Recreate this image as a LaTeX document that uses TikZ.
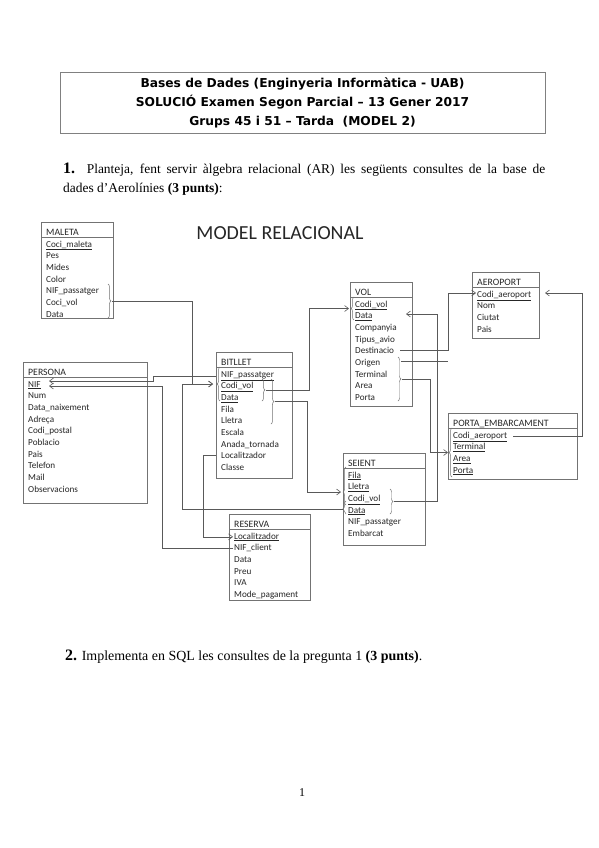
\documentclass[tikz,border=0pt]{standalone}
\usepackage{fontspec}
\setmainfont{Liberation Serif}
\newfontfamily\diagfont{Carlito}
\newfontfamily\capfont{DejaVu Sans}
\usetikzlibrary{arrows.meta,decorations.pathreplacing}

\tikzset{
  marc/.style={draw=black!55, line width=0.6pt, anchor=north west, inner sep=0pt},
  titol/.style={anchor=base west, inner sep=0pt, font=\diagfont\fontsize{9.8}{11}\selectfont, text=black!85},
  fila/.style={anchor=base west, inner sep=0pt, font=\diagfont\fontsize{9.2}{10}\selectfont, text=black!85},
  linia/.style={draw=black!55, line width=0.6pt},
  con/.style={draw=black!65, line width=0.6pt},
  clau/.style={decorate, decoration={brace, amplitude=3pt}, draw=black!55, line width=0.5pt},
}

% taula: nom, x, y dalt, amplada, alcada, titol, files
\newcommand{\taula}[7]{%
  \node[marc, minimum width=#4bp, minimum height=#5bp] (#1) at (#2,#3) {};
  \node[titol] (#1-t) at ({#2+5},{#3+13}) {#6};
  \draw[linia] ({#2},{#3+15.5}) -- ({#2+#4},{#3+15.5});
  \foreach \fil [count=\i] in {#7}
    \node[fila] (#1-\i) at ({#2+5},{#3+25+(\i-1)*11.7}) {\fil};
}

\begin{document}
\begin{tikzpicture}[x=1bp,y=-1bp,>={Straight Barb[length=4pt,width=6pt]}]
\useasboundingbox[fill=white] (0,0) rectangle (599,848);

% capcalera
\node[draw=black!50, line width=0.8pt, minimum width=485bp, minimum height=61bp, align=center,
  font=\capfont\bfseries\fontsize{12.3}{19}\selectfont] (capcal) at (302.5,102.5)
  {Bases de Dades (Enginyeria Informàtica - UAB)\\
   SOLUCIÓ Examen Segon Parcial – 13 Gener 2017\\
   Grups 45 i 51 – Tarda\ \ (MODEL 2)};

\node[anchor=base west, inner sep=0pt, font=\fontsize{13.5}{15}\selectfont] (preg1) at (63,173)
  {\makebox[482bp][s]{{\fontsize{16}{16}\selectfont\bfseries 1.} Planteja, fent servir àlgebra relacional (AR) les següents consultes de la base de}};
\node[anchor=base west, inner sep=0pt, font=\fontsize{13.5}{15}\selectfont] (preg1b) at (63,192)
  {dades d'Aerolínies \textbf{(3 punts)}:};

\node[font=\diagfont\fontsize{20}{24}\selectfont, text=black!85] (model) at (280,233) {MODEL RELACIONAL};

% taules
\taula{mal}{41}{222}{72}{96}{MALETA}{{\underline{Coci\_maleta}},Pes,Mides,Color,NIF\_passatger,Coci\_vol,Data}
\taula{per}{23}{362}{124}{141}{PERSONA}{{\underline{NIF}},Num,Data\_naixement,Adreça,Codi\_postal,Poblacio,Pais,Telefon,Mail,Observacions}
\taula{bit}{216}{352}{76}{126}{BITLLET}{{\underline{NIF\_passatger}},{\underline{Codi\_vol}},{\underline{Data}},Fila,Lletra,Escala,Anada\_tornada,Localitzador,Classe}
\taula{vol}{350}{282}{62}{124}{VOL}{{\underline{Codi\_vol}},{\underline{Data}},Companyia,Tipus\_avio,Destinacio,Origen,Terminal,Area,Porta}
\taula{aer}{472}{272}{67}{66}{AEROPORT}{{\underline{Codi\_aeroport}},Nom,Ciutat,Pais}
\taula{por}{448}{413}{129}{66}{PORTA\_EMBARCAMENT}{{\underline{Codi\_aeroport}},{\underline{Terminal}},{\underline{Area}},{\underline{Porta}}}
\taula{sei}{343}{453}{82}{92}{SEIENT}{{\underline{Fila}},{\underline{Lletra}},{\underline{Codi\_vol}},{\underline{Data}},NIF\_passatger,Embarcat}
\taula{res}{229}{514}{81}{86}{RESERVA}{{\underline{Localitzador}},NIF\_client,Data,Preu,IVA,Mode\_pagament}

% claus
\draw[clau] (108,284) -- (108,318);
\coordinate (mal-c) at (112,301);
\draw[clau] (220,401) -- (220,367);
\coordinate (bit-cl) at (213,384);
\draw[clau] (262,379) -- (262,401);
\coordinate (bit-c1) at (266,390);
\draw[clau] (271,379) -- (271,424);
\coordinate (bit-c2) at (275,401.5);
\draw[clau] (354,320) -- (354,297);
\coordinate (vol-cl) at (349,308.5);
\draw[clau] (398,357) -- (398,401);
\coordinate (vol-cr) at (402,379);
\coordinate (vol-or) at (401,361.5);
\coordinate (vol-or2) at (448,361.5);
\coordinate (vol-d) at (406,314);
\draw[clau] (452,477) -- (452,428);
\coordinate (por-cl) at (448,452.5);
\draw[clau, decoration={aspect=0.34}] (346,505) -- (346,467);
\coordinate (sei-ca) at (341,492);
\draw[clau, decoration={aspect=0.4}] (346,514) -- (346,501);
\coordinate (sei-cb) at (343,509);
\draw[clau] (390,489) -- (390,514);
\coordinate (sei-cr) at (394,501.5);
\coordinate (aer-l) at (476,293);
\coordinate (aer-r) at (545,293);
\coordinate (per-a) at (49,381);
\coordinate (per-b) at (49,386);
\coordinate (c153) at (153,0);
\coordinate (c162) at (162,0);
\coordinate (c203) at (203,0);
\coordinate (c448) at (448,0);
\coordinate (c582) at (582,0);

% relacions
\draw[con,->] (mal-c) -| (192,384) -- (bit-cl);
\draw[con,->] (sei-cb) -- (182,509) |- (bit-cl);
\draw[con,->] (bit-c1) -- (309,390) |- (vol-cl);
\draw[con,->] (bit-c2) -- (307,401.5) |- (sei-ca);
\draw[con,->] (sei-cr) -- (437,501.5) |- (vol-d);
\draw[con,->] ([xshift=6pt]vol-5.east) -| (c448 |- aer-l) -- (aer-l);
\draw[con] (vol-or) -- (vol-or2);
\draw[con,->] (vol-cr) -- (430,379) |- (por-cl);
\draw[con,->] ([xshift=6pt]por-1.east) -| (c582 |- aer-r) -- (aer-r);
\draw[con,->] ([xshift=-5pt]bit-1.west) -| (c153 |- per-a) -- (per-a);
\draw[con,->] ([xshift=-1pt]res-2.west) -| (c162 |- per-b) -- (per-b);
\draw[con,->] ([xshift=-5pt]bit-8.west) -| (c203 |- res-1.west) -- ([xshift=-1pt]res-1.west);

\node[anchor=west, inner sep=0pt, font=\fontsize{14}{15}\selectfont] (preg2) at (65,657)
  {{\fontsize{16}{16}\selectfont\bfseries 2.} Implementa en SQL les consultes de la pregunta 1 \textbf{(3 punts)}.};

\node[font=\fontsize{12}{14}\selectfont] (pag) at (302,793) {1};
\end{tikzpicture}
\end{document}
